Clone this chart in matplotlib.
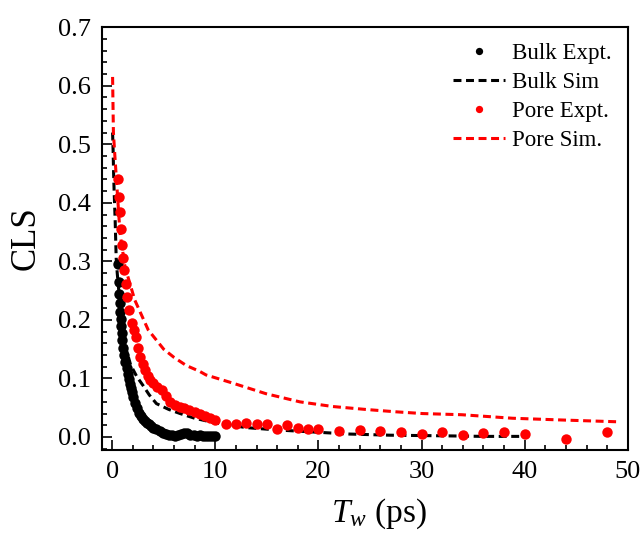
import matplotlib
matplotlib.use("Agg")
import matplotlib.pyplot as plt
from matplotlib.ticker import MultipleLocator, FormatStrFormatter

plt.rcParams['font.family'] = ['Liberation Serif', 'DejaVu Serif']
plt.rcParams['mathtext.fontset'] = 'custom'
plt.rcParams['mathtext.rm'] = 'Liberation Serif'
plt.rcParams['mathtext.it'] = 'Liberation Serif:italic'

# Bulk experiment (Tw in ps, CLS)
bulk_t = [0.6, 0.65, 0.7, 0.75, 0.8, 0.85, 0.9, 0.95, 1.0, 1.1, 1.2, 1.3, 1.4, 1.5,
          1.6, 1.7, 1.8, 1.9, 2.0, 2.2, 2.4, 2.6, 2.8, 3.0, 3.2, 3.4, 3.6, 3.8, 4.0,
          4.3, 4.6, 4.9, 5.2, 5.5, 5.8, 6.1, 6.4, 6.7, 7.0, 7.3, 7.6, 7.9, 8.2, 8.5,
          8.8, 9.1, 9.4, 9.7, 10.0]
bulk_cls = [0.295, 0.265, 0.245, 0.228, 0.214, 0.202, 0.19, 0.178, 0.166, 0.152,
            0.14, 0.128, 0.118, 0.108, 0.099, 0.091, 0.083, 0.076, 0.069, 0.058,
            0.049, 0.041, 0.035, 0.030, 0.027, 0.024, 0.022, 0.019, 0.016, 0.013,
            0.010, 0.007, 0.005, 0.004, 0.003, 0.002, 0.003, 0.005, 0.007, 0.006,
            0.004, 0.003, 0.002, 0.003, 0.002, 0.001, 0.002, 0.001, 0.001]

# Bulk simulation
bulk_sim_t = [0.05, 0.1, 0.15, 0.2, 0.3, 0.4, 0.5, 0.7, 0.9, 1.1, 1.4, 1.8, 2.4,
              3.0, 3.6, 4.3, 5.5, 6.6, 8.0, 10.0, 13.0, 16.0, 20.0, 23.0, 27.0,
              32.0, 36.0, 40.0]
bulk_sim = [0.52, 0.49, 0.45, 0.42, 0.37, 0.305, 0.28, 0.24, 0.207, 0.183, 0.148,
            0.123, 0.103, 0.088, 0.072, 0.057, 0.047, 0.040, 0.032, 0.024, 0.016,
            0.012, 0.008, 0.005, 0.003, 0.002, 0.001, 0.001]

# Pore experiment
pore_t = [0.6, 0.7, 0.77, 0.84, 0.94, 1.03, 1.19, 1.34, 1.48, 1.67, 1.9, 2.1, 2.3,
          2.5, 2.7, 2.95, 3.2, 3.45, 3.7, 4.0, 4.4, 4.8, 5.2, 5.6, 6.1, 6.6, 7.0,
          7.5, 8.0, 8.5, 9.0, 9.5, 10.0, 11, 12, 13, 14, 15, 16, 17, 18, 19, 20,
          22, 24, 26, 28, 30, 32, 34, 36, 38, 40, 44, 48]
pore_cls = [0.44, 0.41, 0.385, 0.355, 0.328, 0.305, 0.285, 0.262, 0.239, 0.217,
            0.194, 0.182, 0.171, 0.152, 0.137, 0.125, 0.114, 0.105, 0.097, 0.093,
            0.086, 0.080, 0.070, 0.060, 0.055, 0.052, 0.050, 0.046, 0.043, 0.039,
            0.035, 0.032, 0.029, 0.023, 0.023, 0.024, 0.022, 0.022, 0.014, 0.020,
            0.015, 0.013, 0.013, 0.010, 0.012, 0.011, 0.008, 0.005, 0.009, 0.004,
            0.006, 0.009, 0.005, -0.003, 0.008]

# Pore simulation
pore_sim_t = [0.05, 0.13, 0.29, 0.45, 0.77, 1.26, 2.2, 3.5, 5.0, 6.0, 7.2, 8.5,
              9.1, 11.7, 14.9, 18.2, 21.4, 24.6, 27.5, 30.1, 33.9, 38.8, 43.6, 48.9]
pore_sim = [0.615, 0.52, 0.475, 0.433, 0.348, 0.29, 0.234, 0.183, 0.150, 0.136,
            0.122, 0.112, 0.106, 0.092, 0.074, 0.060, 0.052, 0.047, 0.043, 0.040,
            0.038, 0.032, 0.029, 0.026]

fig = plt.figure(figsize=(6.44, 5.33), dpi=100)
ax = fig.add_axes([0.158, 0.156, 0.817, 0.793])

dash = (0, (2.6, 1.5))
ax.plot(bulk_t, bulk_cls, 'o', color='black', ms=7.5, mec='none', label='Bulk Expt.')
ax.plot(bulk_sim_t, bulk_sim, color='black', lw=2.2, ls=dash, label='Bulk Sim')
ax.plot(pore_t, pore_cls, 'o', color='red', ms=7.5, mec='none', label='Pore Expt.')
ax.plot(pore_sim_t, pore_sim, color='red', lw=2.2, ls=dash, label='Pore Sim.')

ax.set_xlim(-1, 50)
ax.set_ylim(-0.022, 0.7)
ax.xaxis.set_major_locator(MultipleLocator(10))
ax.xaxis.set_minor_locator(MultipleLocator(2))
ax.yaxis.set_major_locator(MultipleLocator(0.1))
ax.yaxis.set_minor_locator(MultipleLocator(0.02))
ax.yaxis.set_major_formatter(FormatStrFormatter('%.1f'))
ax.tick_params(which='both', direction='in', top=False, right=False, labelsize=19, width=1.2)
ax.tick_params(which='major', length=7, pad=8)
ax.tick_params(which='minor', length=3.5)
for s in ax.spines.values():
    s.set_linewidth(1.5)

ax.set_xlabel('$T_w$ (ps)', fontsize=24)
ax.xaxis.set_label_coords(0.527, -0.11)
ax.set_ylabel('CLS', fontsize=25)
ax.yaxis.set_label_coords(-0.112, 0.5)

ax.legend(loc='upper right', frameon=False, fontsize=16.5, numpoints=1,
          handlelength=2.3, handletextpad=0.3, labelspacing=0.35, markerscale=0.7,
          borderaxespad=0.3)

fig.savefig('out.png', dpi=100)
